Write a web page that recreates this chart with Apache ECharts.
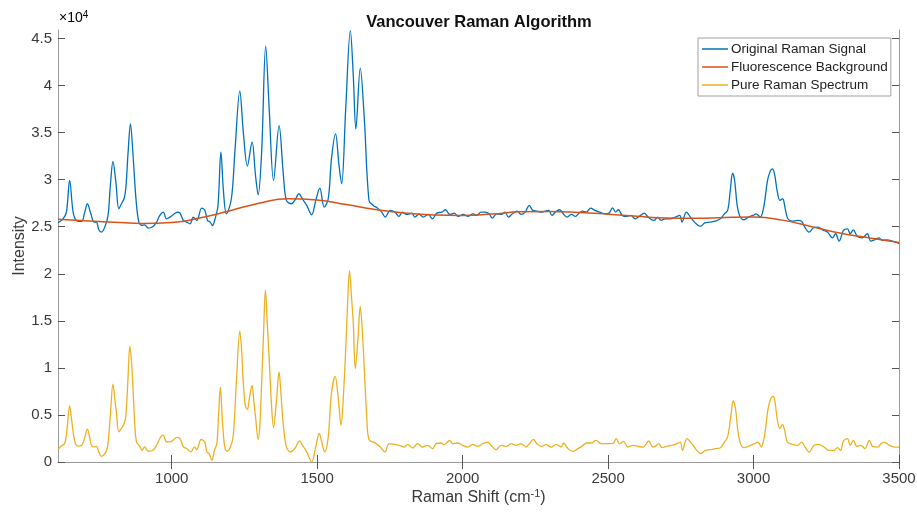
<!DOCTYPE html>
<html><head><meta charset="utf-8">
<script src="https://cdn.jsdelivr.net/npm/echarts@6/dist/echarts.min.js"></script>
<style>html,body{margin:0;padding:0;background:#fff}#c{width:917px;height:513px}</style>
</head><body><div id="c"></div>
<script>
// Original Raman Signal
const origShift = [609,626,638,649,661,672,690,701,710,722,733,741,749,758,770,781,789,798,808,818,827,836,842,850,858,867,877,887,898,907,919,933,948,959,971,982,994,1009,1020,1028,1040,1051,1063,1074,1086,1103,1114,1123,1132,1140,1149,1159,1169,1178,1188,1205,1217,1234,1246,1260,1276,1288,1297,1309,1323,1335,1350,1369,1383,1394,1412,1426,1437,1449,1464,1481,1495,1509,1524,1538,1549,1563,1575,1584,1598,1614,1624,1633,1648,1662,1678,1693,1708,1722,1734,1751,1767,1781,1792,1807,1825,1836,1850,1864,1882,1896,1911,1928,1941,1956,1971,1985,2002,2019,2036,2048,2063,2077,2091,2102,2117,2134,2146,2157,2171,2188,2201,2215,2229,2241,2255,2269,2284,2296,2307,2319,2333,2348,2359,2374,2388,2400,2411,2425,2440,2455,2471,2489,2503,2515,2526,2535,2549,2563,2578,2593,2607,2624,2636,2648,2659,2670,2682,2697,2714,2731,2746,2754,2769,2783,2800,2817,2831,2849,2869,2886,2900,2911,2920,2928,2935,2943,2952,2967,2983,2998,3009,3023,3035,3047,3056,3065,3072,3082,3091,3100,3109,3118,3133,3151,3165,3176,3191,3206,3222,3237,3254,3271,3282,3294,3309,3323,3332,3343,3357,3374,3391,3403,3416,3431,3443,3460,3477,3489,3500];
const origIntensity = [25420,25840,26550,29910,26550,25670,25560,26550,27440,26370,25490,25490,24710,24430,24960,26200,29380,31930,29740,26900,27440,27970,29030,32920,35930,32570,27970,25490,25130,25200,24850,24960,25490,26200,26550,25840,26020,26370,26550,26480,25670,25490,25310,26020,25670,26970,26730,25670,25490,25130,25840,27260,32920,28670,26370,27970,32920,39400,35050,31440,33980,30440,28390,32920,44180,37520,29910,35750,30800,27790,27440,27970,28500,27970,27260,26270,27790,29100,27080,27970,32210,34870,31510,29560,37520,45840,41060,35400,41840,36460,27790,27260,26970,26550,26020,26730,26550,26090,26550,26300,26440,26020,26370,26020,26300,25840,26440,26550,26800,26300,26440,26090,26300,26090,26370,26200,26550,26550,26370,25910,26370,26300,26550,26020,26370,26660,26300,26550,27260,26730,26660,26550,26660,26730,26200,26550,26800,26300,26020,26300,26090,26440,26660,26550,26970,26730,26550,26370,26440,27010,26550,26800,26200,26090,26200,25840,26090,26440,26090,25760,25670,26020,25670,25840,25840,26020,26200,25490,26550,26020,25380,25030,25380,25490,25590,25840,26370,26730,28850,30690,29910,27440,26200,25740,26020,26200,26370,26020,27080,29740,30800,31150,30620,28670,27790,27970,26900,25840,25590,25670,25590,24960,24430,24890,24960,24670,24430,23820,24250,23470,24600,24780,24250,24670,23960,23820,24250,23470,23610,23820,23540,23610,23470,23360,23190];

// Fluorescence Background
const bgShift = [609,700,800,900,1000,1100,1200,1300,1400,1500,1600,1700,1800,1900,2000,2100,2200,2300,2400,2500,2600,2700,2800,2900,3000,3100,3200,3300,3400,3500];
const bgIntensity = [25790,25620,25480,25350,25450,25950,26700,27500,27980,27850,27350,26820,26450,26250,26200,26350,26580,26620,26520,26330,26100,25920,25900,25980,26020,25700,25000,24300,23800,23330];

// Pure Raman Spectrum
const pureShift = [609,620,632,640,649,657,667,678,690,700,710,718,724,733,741,750,758,770,779,788,798,805,810,818,827,836,842,849,856,862,867,873,879,890,898,907,919,936,948,959,966,971,982,994,1005,1017,1028,1040,1051,1066,1078,1086,1101,1113,1121,1129,1138,1147,1155,1161,1167,1174,1182,1190,1200,1211,1222,1234,1240,1246,1253,1260,1268,1276,1282,1288,1297,1303,1309,1316,1322,1328,1335,1343,1350,1360,1369,1376,1383,1394,1408,1423,1440,1449,1464,1481,1495,1507,1515,1526,1538,1549,1562,1570,1575,1582,1590,1598,1604,1611,1618,1624,1631,1640,1648,1655,1662,1670,1678,1699,1716,1733,1747,1762,1782,1800,1811,1828,1845,1862,1880,1897,1909,1926,1937,1955,1966,1983,2000,2017,2035,2052,2069,2086,2098,2115,2132,2150,2167,2184,2201,2218,2230,2243,2255,2270,2287,2304,2321,2339,2347,2362,2379,2396,2414,2425,2442,2459,2476,2494,2517,2528,2540,2553,2568,2586,2603,2620,2640,2654,2662,2674,2685,2702,2719,2737,2748,2756,2771,2788,2805,2819,2834,2851,2869,2886,2900,2911,2923,2930,2938,2946,2955,2967,2990,3003,3015,3026,3038,3049,3059,3067,3073,3082,3091,3099,3107,3116,3134,3151,3165,3176,3191,3208,3225,3242,3259,3277,3288,3299,3309,3323,3332,3343,3355,3369,3383,3398,3409,3427,3438,3449,3467,3484,3500];
const pureIntensity = [1320,1700,1960,3500,5960,4200,2140,1680,1750,2500,3500,2600,1790,1600,1650,1000,600,890,1600,4500,8280,6500,5180,3210,3570,4030,4820,8500,12300,10500,7680,4000,2140,1680,1250,1610,1140,1250,1790,2500,2800,2860,2140,2140,2320,2610,2500,1610,1430,1070,1610,1320,2390,2140,1070,890,180,1250,1960,5000,7930,4500,1610,1150,1500,2680,8390,13900,12000,8390,6000,5600,7000,8140,6500,4820,2390,4000,8390,14000,18250,15000,10890,6000,3650,6500,9570,7000,4100,1610,1070,1430,2250,1790,1070,0,1610,3030,2200,1070,2680,7320,9100,7500,5890,3900,7000,11960,16500,20300,17500,14820,9920,13000,16530,14000,9820,5000,2390,2030,1610,1070,1960,1890,1770,1590,1880,1490,1950,1590,1770,1420,1950,2020,1840,2300,1950,2020,1770,1590,1880,1660,1950,2120,1770,1310,1770,1660,1950,1770,1950,1590,1950,2410,1950,1660,1840,1590,1880,1590,2020,1420,1130,1420,1770,2020,2020,2300,1950,1950,1980,2480,1950,2200,1590,1770,1660,1590,2230,1590,1660,1950,1520,1660,1770,1950,2120,1240,2480,1950,1240,885,1240,1310,1420,1520,2120,2660,5130,6480,5660,3360,1950,1520,1770,1950,2120,1590,2830,5490,6730,6970,6550,4430,3540,4000,3360,2120,1880,1770,2120,1660,1060,1770,1880,1590,1240,1240,1520,1240,2230,2480,1770,2300,1660,1770,1420,2300,1660,1590,1950,2120,1770,1590,1590];

// Tick labels
const xTicks = [1000,1500,2000,2500,3000,3500];
const yTicks = [0,5000,10000,15000,20000,25000,30000,35000,40000,45000];
const seriesNames = ['Original Raman Signal','Fluorescence Background','Pure Raman Spectrum'];

const zip = (a,b) => a.map((v,i)=>[v,b[i]]);
const axisCol = '#9a9a9a', textCol = '#3a3a3a', font = 'Liberation Sans, Arial, sans-serif';

const chart = echarts.init(document.getElementById('c'), null, {renderer:'canvas'});
const baseX = {type:'value', min:609, max:3500, splitLine:{show:false},
  axisLine:{lineStyle:{color:axisCol,width:1}},
  axisTick:{inside:true,length:7,lineStyle:{color:'#555'},customValues:xTicks}};
const baseY = {type:'value', min:0, max:45900, splitLine:{show:false},
  axisLine:{show:true,lineStyle:{color:axisCol,width:1}},
  axisTick:{show:true,inside:true,length:7,lineStyle:{color:'#555'},customValues:yTicks}};
chart.setOption({
  backgroundColor:'#fff',
  animation:false,
  title:{text:'Vancouver Raman Algorithm', left:474, top:9, textAlign:'center',
    textStyle:{fontFamily:font,fontSize:16.5,fontWeight:'bold',color:'#111'}},
  grid:{left:58,right:18,top:30,bottom:51,outerBoundsMode:'none',containLabel:false},
  legend:{data:seriesNames, orient:'vertical', left:698, top:38, icon:'rect', itemWidth:26, itemHeight:1.5,
    itemGap:2, padding:[3,3,3,4], borderColor:'#a0a0a0', borderWidth:1, borderRadius:0, backgroundColor:'#fff',
    textStyle:{fontFamily:font,fontSize:13.5,color:'#222',lineHeight:16,padding:[0,0,0,-2]}},
  xAxis:[Object.assign({}, baseX, {position:'bottom',
      name:'{a|Raman Shift (cm}{s|-1}{a|)}', nameLocation:'middle', nameGap:26, nameMoveOverlap:false,
      nameTextStyle:{rich:{a:{fontFamily:font,fontSize:16,color:textCol},s:{fontFamily:font,fontSize:11,color:textCol,verticalAlign:'top',padding:[0,0,9,0]}}},
      axisLabel:{customValues:xTicks,fontFamily:font,fontSize:15,color:textCol,margin:9,formatter:v=>String(v)}}),
    Object.assign({}, baseX, {position:'top', axisLabel:{show:false}})],
  yAxis:[Object.assign({}, baseY, {position:'left',
      name:'Intensity', nameLocation:'middle', nameGap:30, nameMoveOverlap:false,
      nameTextStyle:{fontFamily:font,fontSize:16,color:textCol},
      axisLabel:{customValues:yTicks,fontFamily:font,fontSize:15,color:textCol,margin:6,formatter:v=>String(v/10000)}}),
    Object.assign({}, baseY, {position:'right', axisLabel:{show:false}})],
  graphic:[{type:'text', left:59, top:10, style:{rich:{a:{fontFamily:font,fontSize:14,color:'#555'},s:{fontFamily:font,fontSize:10,color:'#555',verticalAlign:'top',padding:[0,0,7,0]}}, text:'{a|×10}{s|4}'}}],
  series:[
    {name:seriesNames[0], type:'line', data:zip(origShift,origIntensity), showSymbol:false, symbol:'none', smooth:0.35,
      lineStyle:{color:'#0072BD',width:1.3}, itemStyle:{color:'#0072BD'}, z:3},
    {name:seriesNames[1], type:'line', data:zip(bgShift,bgIntensity), showSymbol:false, symbol:'none', smooth:true,
      lineStyle:{color:'#D95319',width:1.5}, itemStyle:{color:'#D95319'}, z:4},
    {name:seriesNames[2], type:'line', data:zip(pureShift,pureIntensity), showSymbol:false, symbol:'none', smooth:0.35,
      lineStyle:{color:'#EDB120',width:1.3}, itemStyle:{color:'#EDB120'}, z:3}
  ]
});
</script></body></html>
